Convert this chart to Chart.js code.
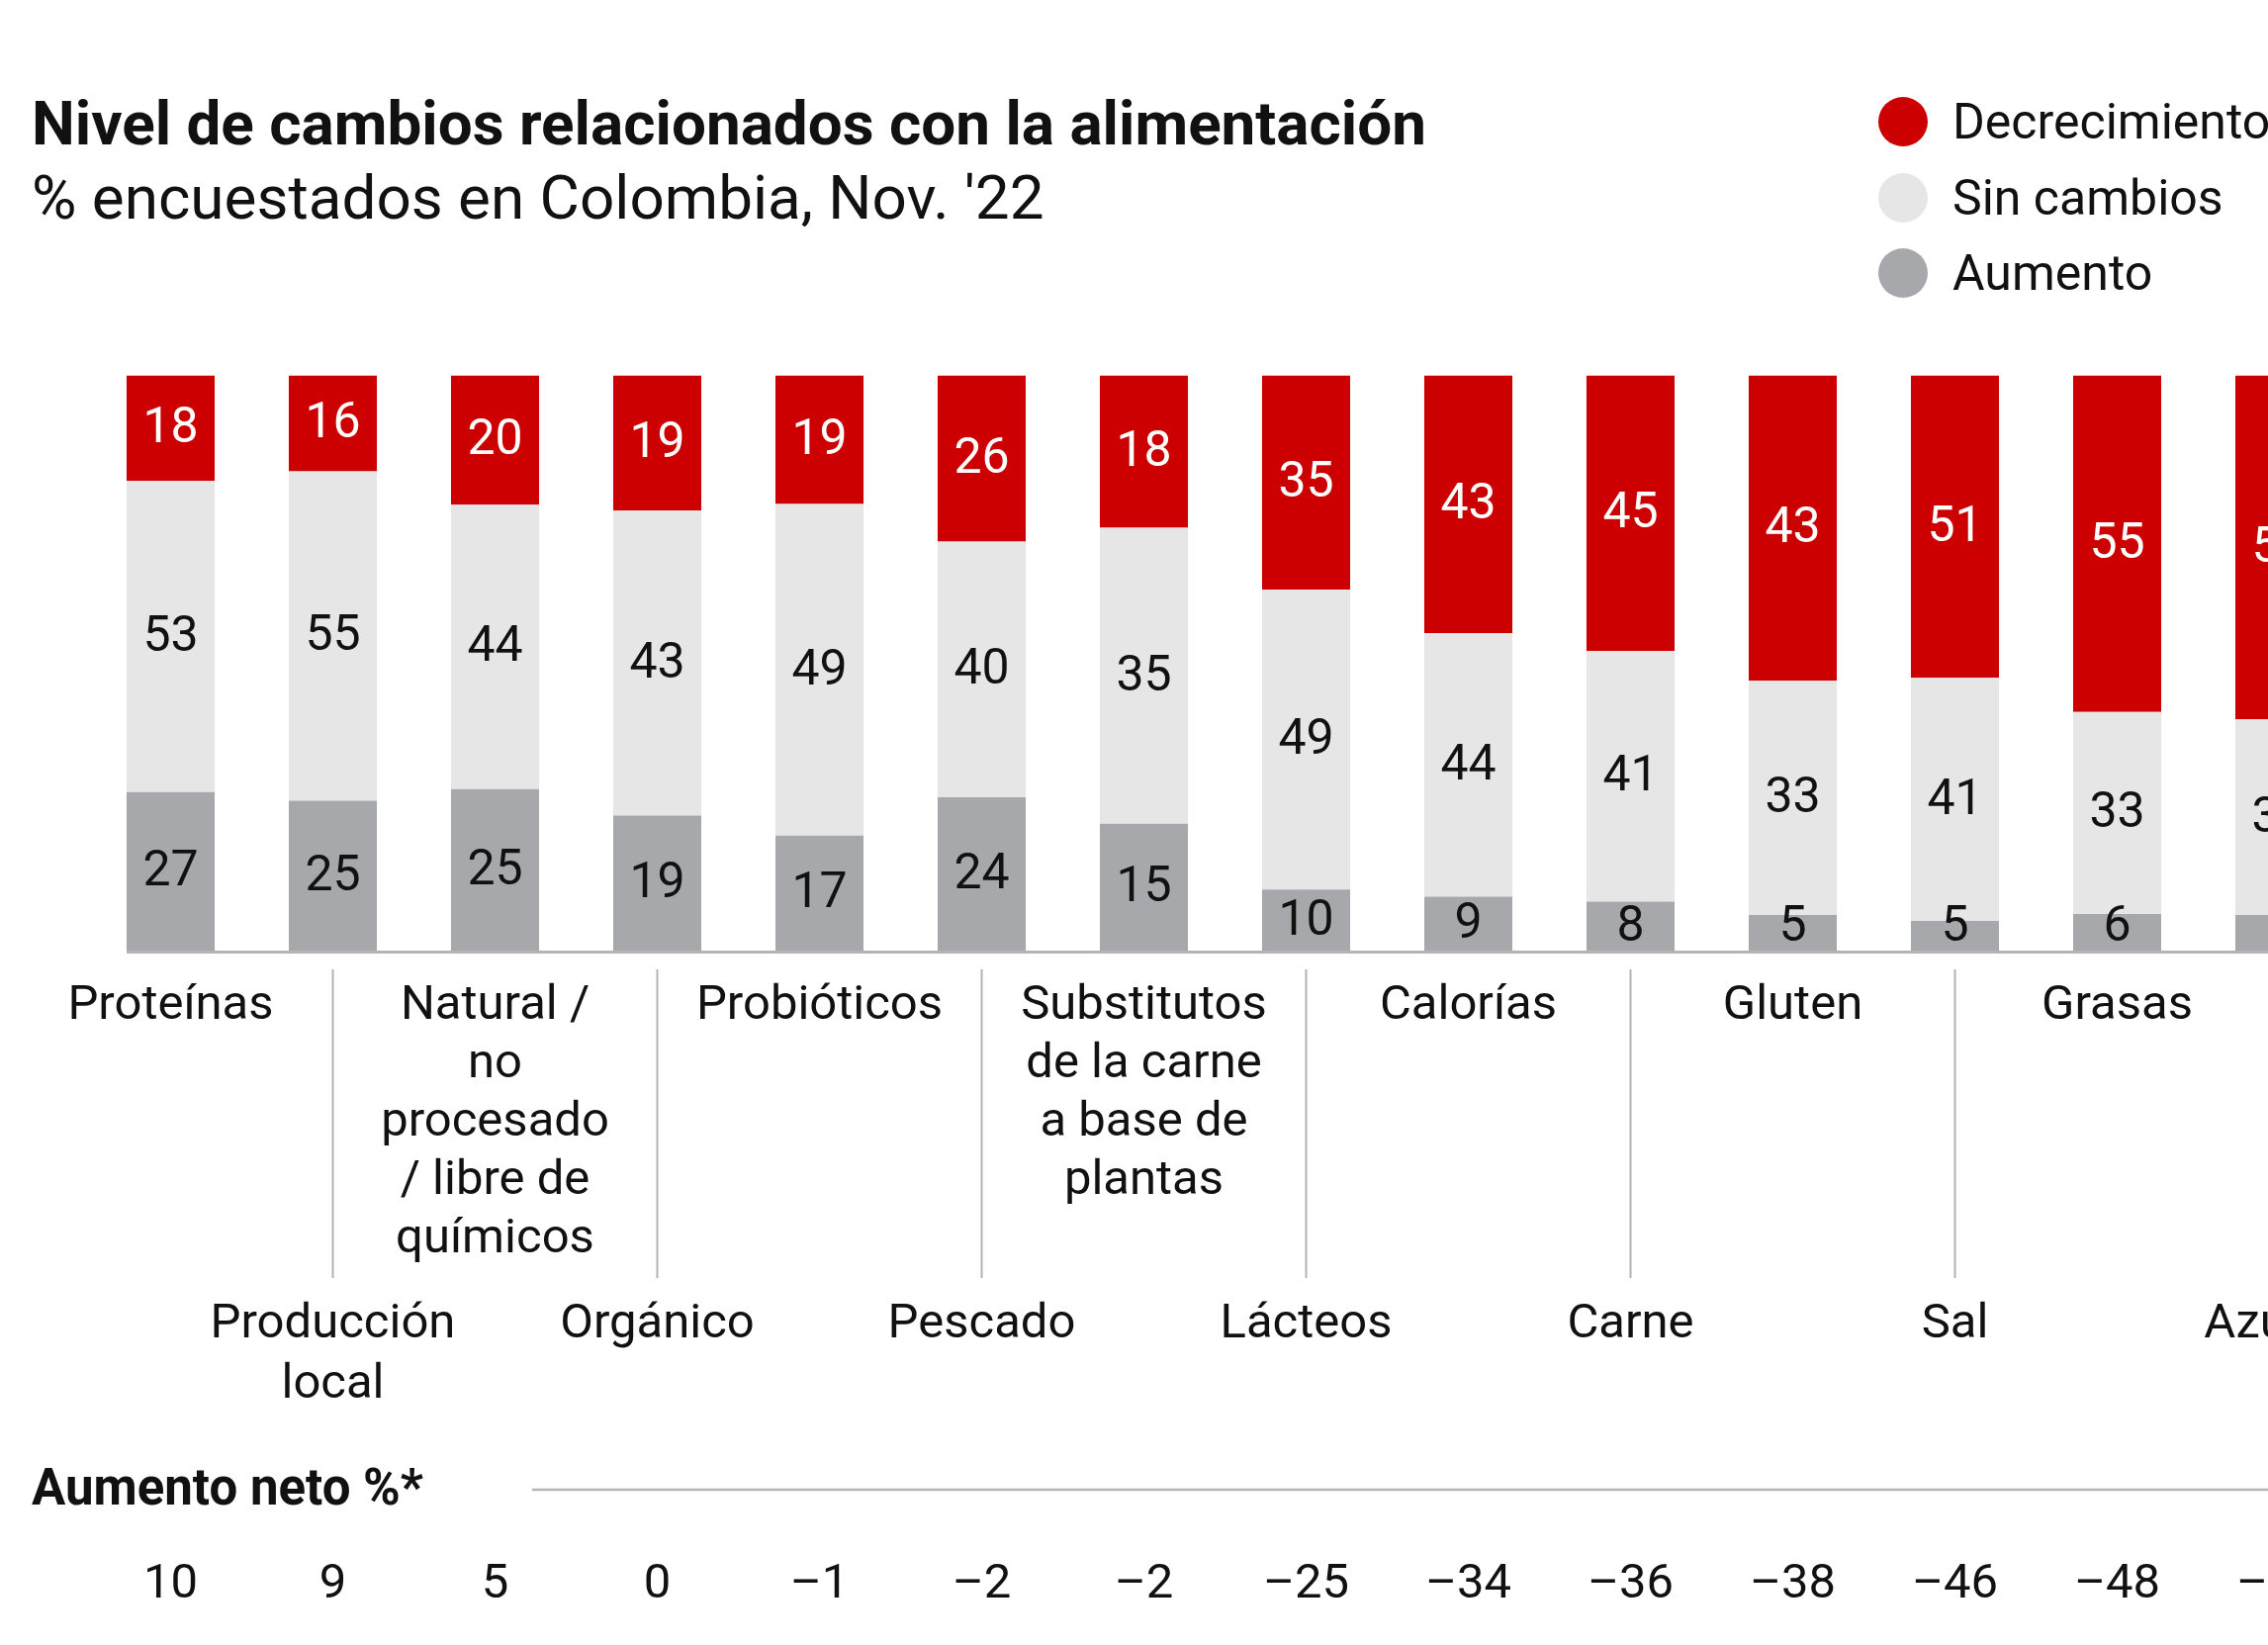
<!DOCTYPE html>
<html><head><meta charset="utf-8">
<script src="https://cdn.jsdelivr.net/npm/chart.js@4.4.0/dist/chart.umd.min.js"></script>
<style>
html,body{margin:0;padding:0;background:#fff;overflow:hidden}
#wrap{position:relative;width:2293px;height:1663px;overflow:hidden}
#c{position:absolute;left:0;top:0}
</style>
</head><body>
<div id="wrap"><canvas id="c" width="2400" height="1663"></canvas></div>
<script>
// Datos (% encuestados, Colombia nov. 2022)
const categorias=[["Proteínas"],["Producción","local"],["Natural /","no","procesado","/ libre de","químicos"],["Orgánico"],["Probióticos"],["Pescado"],["Substitutos","de la carne","a base de","plantas"],["Lácteos"],["Calorías"],["Carne"],["Gluten"],["Sal"],["Grasas"],["Azúcar"]];
const decrecimiento=[18,16,20,19,19,26,18,35,43,45,43,51,55,58];
const sinCambios=[53,55,44,43,49,40,35,49,44,41,33,41,33,33];
const aumento=[27,25,25,19,17,24,15,10,9,8,5,5,6,6];
const netos=[10,9,5,0,-1,-2,-2,-25,-34,-36,-38,-46,-48,-52];
const series=["Decrecimiento","Sin cambios","Aumento"];
const colores={rojo:"#CC0000",claro:"#E6E6E6",gris:"#A7A8AC",linea:"#B4B4B4"};
const F="Roboto, 'Open Sans', sans-serif";

// cada barra llega al 100% (los valores redondeados no siempre suman 100)
const tot=categorias.map((_,i)=>aumento[i]+sinCambios[i]+decrecimiento[i]);
const norm=a=>a.map((v,i)=>v/tot[i]*100);

const etiquetas={id:"etiquetas",
  afterDatasetsDraw(ch){
    const ctx=ch.ctx,ca=ch.chartArea;
    ctx.save();ctx.font="50px "+F;ctx.textAlign="center";ctx.textBaseline="middle";
    ch.data.datasets.forEach((ds,d)=>{
      ch.getDatasetMeta(d).data.forEach((b,i)=>{
        let y=(b.y+b.base)/2;
        y=Math.min(y,ca.bottom-25);
        ctx.fillStyle=ds.txt;ctx.fillText(ds.raw[i],b.x,y+2);
      });
    });
    ctx.restore();
  },
  afterDraw(ch){
    const ctx=ch.ctx,ca=ch.chartArea,xs=ch.scales.x,W=ch.width;
    const b0=ch.getDatasetMeta(0).data[0];
    ctx.save();
    // linea base
    ctx.strokeStyle=colores.linea;ctx.lineWidth=3;
    ctx.beginPath();ctx.moveTo(b0.x-b0.width/2,ca.bottom+1.5);ctx.lineTo(W,ca.bottom+1.5);ctx.stroke();
    // etiquetas de categoria en dos filas
    ctx.font="49px "+F;ctx.fillStyle="#111";ctx.textAlign="center";ctx.textBaseline="middle";
    categorias.forEach((lin,i)=>{
      const x=xs.getPixelForValue(i);
      if(i%2===0){
        lin.forEach((t,k)=>ctx.fillText(t,x,ca.bottom+57+k*59));
      }else{
        ctx.lineWidth=2;ctx.beginPath();ctx.moveTo(x,ca.bottom+19);ctx.lineTo(x,ca.bottom+331);ctx.stroke();
        lin.forEach((t,k)=>ctx.fillText(t,x,ca.bottom+379+k*61));
      }
    });
    // fila de aumento neto
    ctx.textAlign="left";ctx.font="bold 51px "+F;
    ctx.fillText("Aumento neto %*",32,1508);
    ctx.lineWidth=2.5;ctx.beginPath();ctx.moveTo(538,1506);ctx.lineTo(W,1506);ctx.stroke();
    ctx.textAlign="center";ctx.font="49px "+F;
    netos.forEach((v,i)=>ctx.fillText(v<0?"–"+Math.abs(v):String(v),xs.getPixelForValue(i),1603));
    // titulo y subtitulo
    ctx.textAlign="left";ctx.font="bold 62px "+F;
    ctx.fillText("Nivel de cambios relacionados con la alimentación",32,130);
    ctx.font="62px "+F;
    ctx.fillText("% encuestados en Colombia, Nov. '22",32,205);
    // leyenda
    const lc=[colores.rojo,colores.claro,colores.gris],ly=[123,200,276];
    ctx.font="50px "+F;
    series.forEach((s,k)=>{
      ctx.fillStyle=lc[k];ctx.beginPath();ctx.arc(1924,ly[k],25,0,Math.PI*2);ctx.fill();
      ctx.fillStyle="#111";ctx.fillText(s,1974,ly[k]+4);
    });
    ctx.restore();
  }};

new Chart(document.getElementById("c"),{
  type:"bar",
  data:{labels:categorias.map(l=>l.join(" ")),datasets:[
    {label:"Aumento",data:norm(aumento),raw:aumento,backgroundColor:colores.gris,txt:"#111"},
    {label:"Sin cambios",data:norm(sinCambios),raw:sinCambios,backgroundColor:colores.claro,txt:"#111"},
    {label:"Decrecimiento",data:norm(decrecimiento),raw:decrecimiento,backgroundColor:colores.rojo,txt:"#fff"}
  ]},
  options:{responsive:false,animation:false,
    layout:{padding:{left:90.5,right:13.5,top:379.5,bottom:702}},
    datasets:{bar:{categoryPercentage:1,barPercentage:0.543,borderWidth:0}},
    plugins:{legend:{display:false},tooltip:{enabled:false}},
    scales:{x:{display:false,stacked:true},y:{display:false,stacked:true,min:0,max:100}}
  },
  plugins:[etiquetas]
});
</script>
</body></html>
